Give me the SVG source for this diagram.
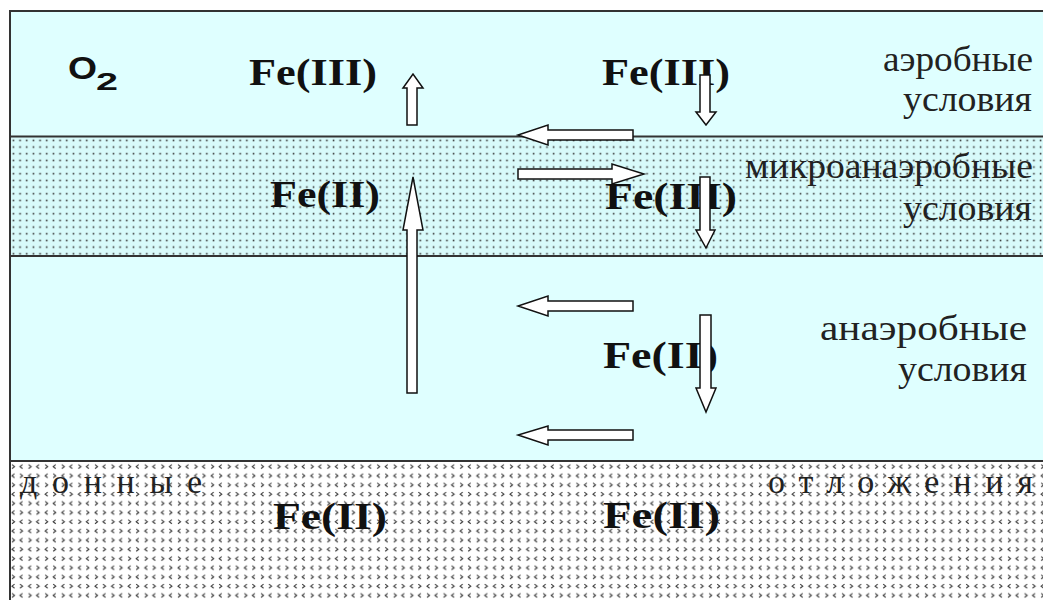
<svg xmlns="http://www.w3.org/2000/svg" width="1043" height="600" viewBox="0 0 1043 600">
<style>
.fe{font-family:"Liberation Serif","Times New Roman",serif;font-weight:bold;font-size:37px;fill:#111}
.lab{font-family:"Liberation Serif","Times New Roman",serif;font-size:35px;fill:#222}
.sed{font-family:"Liberation Serif","Times New Roman",serif;font-size:34px;fill:#222}
.o2{font-family:"Liberation Sans",Arial,sans-serif;font-weight:bold;fill:#111}
.arr{fill:#fff;stroke:#111;stroke-width:1.5;stroke-linejoin:miter}
.bl{stroke:#333;stroke-width:2;fill:none}
</style>
<defs>
<pattern id="dots" x="10" y="137" width="6.67" height="6.67" patternUnits="userSpaceOnUse">
<rect width="6.67" height="6.67" fill="#d8fafa"/>
<rect x="2.6" y="2.6" width="1.6" height="1.6" fill="#333"/>
</pattern>
<pattern id="divot" x="10" y="462" width="16.6" height="18.4" patternUnits="userSpaceOnUse">
<rect width="16.6" height="18.4" fill="#fff"/>
<g stroke="#333" stroke-width="1.1" fill="none">
<path d="M2,2.5 L4.5,4.5 L2,6.5"/>
<path d="M12.5,2.5 L10,4.5 L12.5,6.5"/>
<path d="M4.5,11.7 L2,13.7 L4.5,15.7"/>
<path d="M10,11.7 L12.5,13.7 L10,15.7"/>
</g>
</pattern>
</defs>
<rect width="1043" height="600" fill="#fff"/>
<g id="zone-aerobic">
<rect x="10" y="11" width="1040" height="126" fill="#dfffff"/>
</g>
<g id="zone-microanaerobic">
<rect x="10" y="137" width="1040" height="119" fill="url(#dots)"/>
</g>
<g id="zone-anaerobic">
<rect x="10" y="256" width="1040" height="205" fill="#dfffff"/>
</g>
<g id="zone-sediment">
<rect x="10" y="461" width="1040" height="150" fill="url(#divot)"/>
</g>
<g id="boundaries">
<path class="bl" d="M10,600 L10,11 L1043,11"/>
<path class="bl" d="M10,136.5 L1043,136.5 M10,256 L1043,256 M10,461 L1043,461"/>
</g>
<g id="o2">
<text class="o2" x="68" y="79" font-size="31" textLength="29" lengthAdjust="spacingAndGlyphs">O</text>
<text class="o2" x="96" y="90" font-size="23" textLength="22" lengthAdjust="spacingAndGlyphs">2</text>
</g>
<g id="fe3-aerobic-left"><text class="fe" x="249" y="85" textLength="128" lengthAdjust="spacingAndGlyphs">Fe(III)</text></g>
<g id="fe3-aerobic-right"><text class="fe" x="602" y="85" textLength="128" lengthAdjust="spacingAndGlyphs">Fe(III)</text></g>
<g id="fe2-micro-left"><text class="fe" x="270" y="207" textLength="110" lengthAdjust="spacingAndGlyphs">Fe(II)</text></g>
<g id="fe3-micro-right"><text class="fe" x="605" y="209" textLength="132" lengthAdjust="spacingAndGlyphs">Fe(III)</text></g>
<g id="fe2-anaerobic"><text class="fe" x="603" y="368" textLength="115" lengthAdjust="spacingAndGlyphs">Fe(II)</text></g>
<g id="fe2-sediment-left"><text class="fe" x="273" y="529" textLength="114" lengthAdjust="spacingAndGlyphs">Fe(II)</text></g>
<g id="fe2-sediment-right"><text class="fe" x="603" y="528" textLength="117" lengthAdjust="spacingAndGlyphs">Fe(II)</text></g>
<g id="label-aerobic">
<text class="lab" x="883" y="71" textLength="150" lengthAdjust="spacingAndGlyphs">аэробные</text>
<text class="lab" x="903" y="111" textLength="129" lengthAdjust="spacingAndGlyphs">условия</text>
</g>
<g id="label-micro">
<text class="lab" x="745" y="178" textLength="288" lengthAdjust="spacingAndGlyphs">микроанаэробные</text>
<text class="lab" x="903" y="220" textLength="129" lengthAdjust="spacingAndGlyphs">условия</text>
</g>
<g id="label-anaerobic">
<text class="lab" x="820" y="340" textLength="207" lengthAdjust="spacingAndGlyphs">анаэробные</text>
<text class="lab" x="898" y="381" textLength="129" lengthAdjust="spacingAndGlyphs">условия</text>
</g>
<g id="label-sediment">
<text class="sed" x="20" y="493" textLength="182" lengthAdjust="spacing">донные</text>
<text class="sed" x="768" y="493" textLength="265" lengthAdjust="spacing">отложения</text>
</g>
<g id="connectors">
<polygon class="arr" points="407,125 407,88 403,88 413,74 423,88 417,88 417,125"/>
<polygon class="arr" points="407,393 407,230 403,230 413,177 423,230 417,230 417,393"/>
<polygon class="arr" points="633,130 548,130 548,125 518,135 548,145 548,140 633,140"/>
<polygon class="arr" points="518,169 612,169 612,164 644,174 612,184 612,179 518,179"/>
<polygon class="arr" points="700,75 710,75 710,112 716,112 706,125 696,112 700,112"/>
<polygon class="arr" points="700,177 710,177 710,230 715,230 706,248 696,230 700,230"/>
<polygon class="arr" points="633,301 548,301 548,296 518,306 548,316 548,311 633,311"/>
<polygon class="arr" points="700,315 711,315 711,388 716,388 706,412 696,388 700,388"/>
<polygon class="arr" points="633,430 548,430 548,426 518,435 548,445 548,440 633,440"/>
</g>
</svg>
